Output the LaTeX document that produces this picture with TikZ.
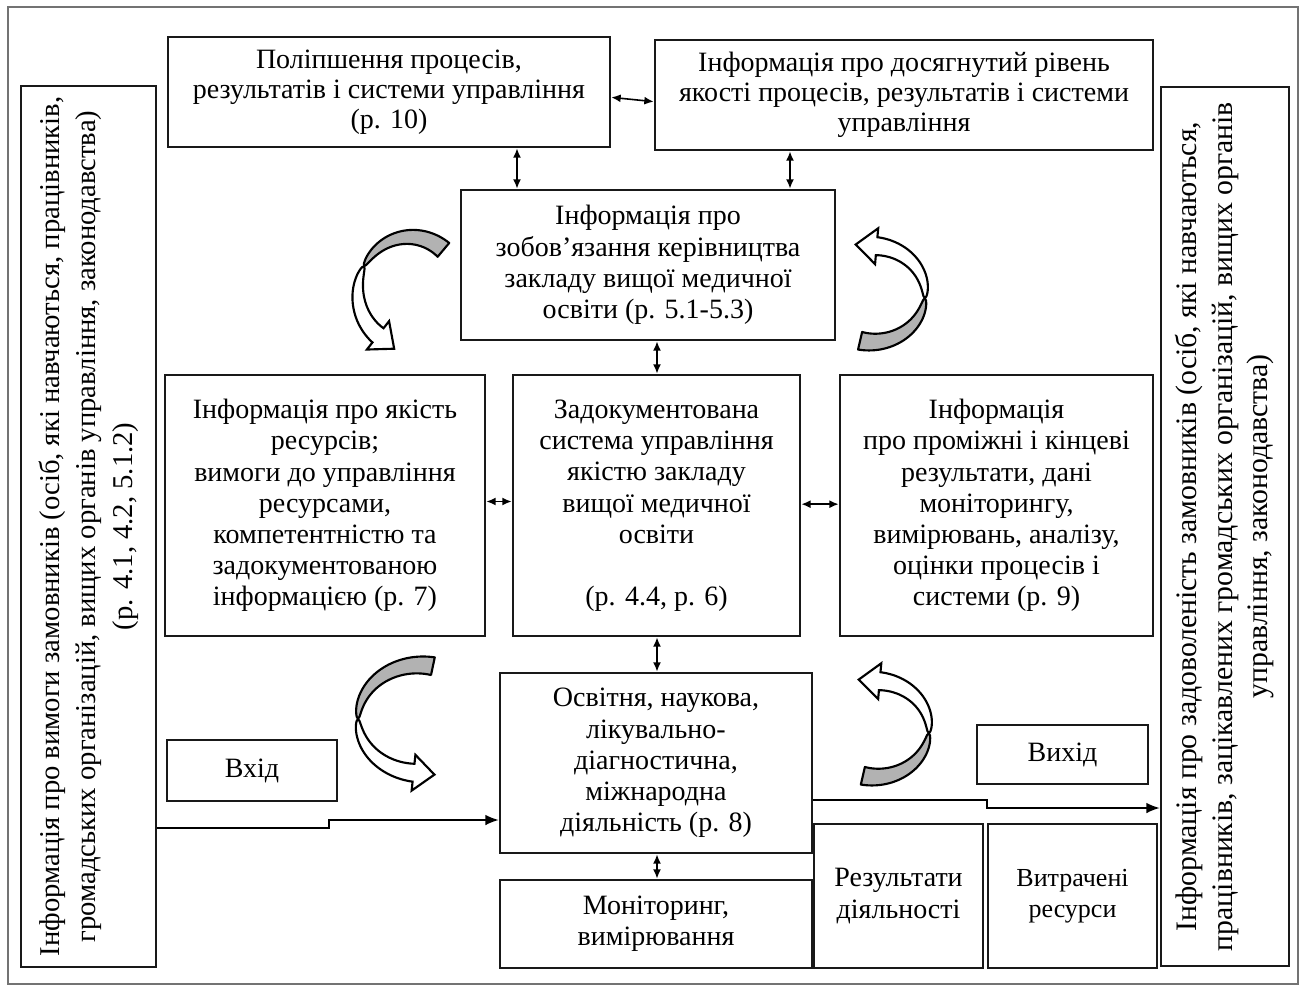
\documentclass[tikz,border=0pt]{standalone}
\usepackage{fontspec}
\setmainfont{Liberation Serif}
\usetikzlibrary{arrows.meta}
\newcommand\ribbon[8]{%
  \pgfmathsetmacro\RWw{9}%
  \pgfmathsetmacro\RHh{18}%
  \pgfmathsetmacro\RLl{21}%
  \pgfmathsetmacro\RTx{-(#8)*(#3)*sin(#7)}%
  \pgfmathsetmacro\RTy{(#8)*(#4)*cos(#7)}%
  \pgfmathsetmacro\RTn{sqrt((\RTx)*(\RTx)+(\RTy)*(\RTy))}%
  \pgfmathsetmacro\RPx{#1+(#3)*cos(#7)+\RLl*(\RTx)/\RTn}%
  \pgfmathsetmacro\RPy{#2+(#4)*sin(#7)+\RLl*(\RTy)/\RTn}%
  \filldraw[ribgray] plot[domain=#5:#6,samples=40,variable=\t]
     ({#1+(#3+\RWw*sqrt(abs((\t-(#6))/((#5)-(#6)))))*cos(\t)},{#2+(#4+\RWw*sqrt(abs((\t-(#6))/((#5)-(#6)))))*sin(\t)})
   -- plot[domain=#6:#5,samples=40,variable=\t]
     ({#1+(#3-\RWw*sqrt(abs((\t-(#6))/((#5)-(#6)))))*cos(\t)},{#2+(#4-\RWw*sqrt(abs((\t-(#6))/((#5)-(#6)))))*sin(\t)})
   -- cycle;
  \filldraw[ribwhite] plot[domain=#6:#7,samples=40,variable=\t]
     ({#1+(#3+\RWw*sqrt(abs((\t-(#6))/((#7)-(#6)))))*cos(\t)},{#2+(#4+\RWw*sqrt(abs((\t-(#6))/((#7)-(#6)))))*sin(\t)})
   -- ({#1+(#3+\RHh)*cos(#7)},{#2+(#4+\RHh)*sin(#7)})
   -- (\RPx,\RPy)
   -- ({#1+(#3-\RHh)*cos(#7)},{#2+(#4-\RHh)*sin(#7)})
   -- plot[domain=#7:#6,samples=40,variable=\t]
     ({#1+(#3-\RWw*sqrt(abs((\t-(#6))/((#7)-(#6)))))*cos(\t)},{#2+(#4-\RWw*sqrt(abs((\t-(#6))/((#7)-(#6)))))*sin(\t)})
   -- cycle;
}
\begin{document}
\begin{tikzpicture}[x=0.75pt,y=-0.75pt,
  box/.style={draw=black!90, line width=2pt, align=center, inner sep=0pt, font=\fontsize{21}{23.4}\selectfont},
  topbox/.style={box, font=\fontsize{21}{22.6}\selectfont},
  wh/.style 2 args={minimum width=#1*0.75pt, minimum height=#2*0.75pt},
  vtext/.style={rotate=90, align=center, inner sep=0pt, font=\fontsize{21.5}{27.5}\selectfont},
  dbl/.style={line width=1.2pt, {Latex[length=7pt,width=6pt]}-{Latex[length=7pt,width=6pt]}},
  arr/.style={line width=1.1pt, -{Latex[length=10pt,width=8pt]}},
  ribgray/.style={draw=black, line width=1.6pt, fill=black!30, line join=round},
  ribwhite/.style={draw=black, line width=1.6pt, fill=white, line join=miter}]
\useasboundingbox (0,0) rectangle (1301,987);
\draw[black!55, line width=1pt] (8,7) rectangle (1298,984);

% side boxes
\node[box, wh={135}{881}] (L) at (88.5,526.5) {};
\node[vtext] (Lt) at (L.center) {Інформація про вимоги замовників (осіб, які навчаються, працівників,\\ громадських організацій, вищих органів управління, законодавства)\\ (р. 4.1, 4.2, 5.1.2)};
\node[box, wh={128}{879}] (R) at (1225,526.5) {};
\node[vtext, font=\fontsize{22.3}{26.6}\selectfont] (Rt) at (R.center) {Інформація про задоволеність замовників (осіб, які навчаються,\\ працівників, зацікавлених громадських організацій, вищих органів\\ управління, законодавства)};

% top row
\node[topbox, wh={442}{110}] (TLb) at (389,92) {Поліпшення процесів,\\ результатів і системи управління\\ (р. 10)};
\node[topbox, wh={498}{110}] (TRb) at (904,95) {Інформація про досягнутий рівень\\ якості процесів, результатів і системи\\ управління};
\node[box, wh={374}{150}] (CT) at (648,265) {Інформація про\\ зобов’язання керівництва\\ закладу вищої медичної\\ освіти (р. 5.1-5.3)};

% middle row
\node[box, wh={320}{261}] (LM) at (325,505.5) {Інформація про якість\\ ресурсів;\\ вимоги до управління\\ ресурсами,\\ компетентністю та\\ задокументованою\\ інформацією (р. 7)};
\node[box, wh={287}{261}] (CM) at (656.5,505.5) {Задокументована\\ система управління\\ якістю закладу\\ вищої медичної\\ освіти\\[23pt] (р. 4.4, р. 6)};
\node[box, wh={313}{261}] (RM) at (996.5,505.5) {Інформація\\ про проміжні і кінцеві\\ результати, дані\\ моніторингу,\\ вимірювань, аналізу,\\ оцінки процесів і\\ системи (р. 9)};

% bottom
\node[box, wh={312}{180}] (OB) at (656,763) {Освітня, наукова,\\ лікувально-\\ діагностична,\\ міжнародна\\ діяльність (р. 8)};
\node[box, wh={312}{88}] (MB) at (656,924) {Моніторинг,\\ вимірювання};
\node[box, wh={170}{61}] (IN) at (252,770.5) {Вхід};
\node[box, wh={171}{59}] (OUT) at (1062.5,754.5) {Вихід};
\node[box, wh={169}{144}] (RES) at (898.5,896) {Результати\\ діяльності};
\node[box, wh={169}{144}, font=\fontsize{19.5}{23.4}\selectfont] (SP) at (1072.5,896) {Витрачені\\ ресурси};

% double arrows
\coordinate (v1) at (517,0);
\coordinate (v2) at (790,0);
\coordinate (v3) at (657,0);
\draw[dbl] ([yshift=-4pt]TLb.east) -- ([yshift=-5pt]TRb.west);
\draw[dbl] (TLb.south -| v1) -- (CT.north -| v1);
\draw[dbl] (TRb.south -| v2) -- (CT.north -| v2);
\draw[dbl] (CT.south -| v3) -- (CM.north -| v3);
\draw[dbl] (CM.south -| v3) -- (OB.north -| v3);
\draw[dbl] (OB.south -| v3) -- (MB.north -| v3);
\draw[dbl] ([yshift=3pt]LM.east) -- ([yshift=3pt]CM.west);
\draw[dbl] ([yshift=1pt]CM.east) -- ([yshift=1pt]RM.west);

% input / output
\coordinate (in1) at (329,828);
\coordinate (in2) at (329,820);
\draw[arr] (L.east |- in1) -- (in1) -- (in2) -- (OB.west |- in2);
\coordinate (out1) at (987,800);
\coordinate (out2) at (987,808);
\draw[arr] (OB.east |- out1) -- (out1) -- (out2) -- (R.west |- out2);

% curved ribbon arrows
\ribbon{410}{292}{52}{55}{310}{208}{128}{-1}
\ribbon{872}{294}{53}{48}{103}{5}{-85}{-1}
\ribbon{420}{719}{62}{54}{282}{180}{96}{-1}
\ribbon{875}{729}{54}{48}{103}{5}{-85}{-1}
\end{tikzpicture}
\end{document}
